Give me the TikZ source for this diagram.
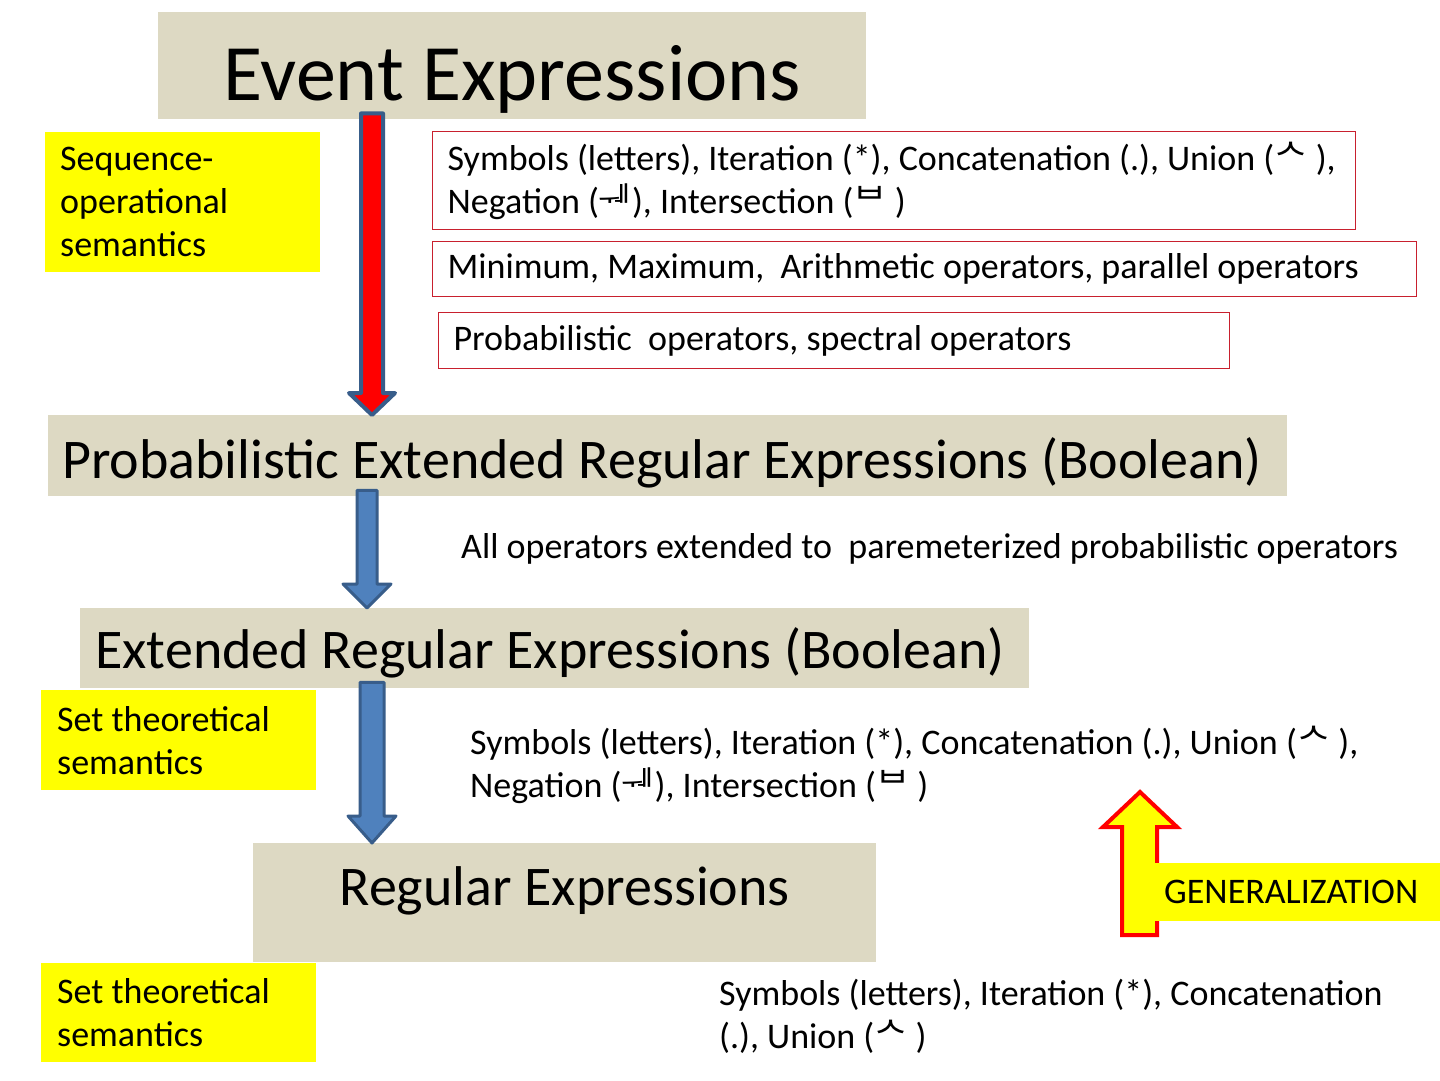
\documentclass[tikz,border=0pt]{standalone}
\usepackage{fontspec}
\setmainfont{Carlito}
\newfontfamily\hangulfont{Noto Sans CJK KR}
\usetikzlibrary{calc}
\definecolor{sand}{HTML}{DDD9C3}
\definecolor{hilite}{HTML}{FFFF00}
\definecolor{boxred}{HTML}{C8202E}
\definecolor{steel}{HTML}{4F81BD}
\definecolor{steeldark}{HTML}{385D8A}

% operator glyphs as printed on the slide
\newcommand{\jamo}[1]{{\hangulfont #1}}
% block arrow from the bottom of one box to the top of the next
% #1 style, #2 x, #3 from, #4 to, #5 half shaft, #6 half head, #7 head length
\newcommand{\blockarrow}[7]{%
  \draw[#1] let \p1=(#3.south), \p2=(#4.north) in
    (#2pt-#5pt,\y1+6pt) -- (#2pt+#5pt,\y1+6pt) -- (#2pt+#5pt,\y2+#7pt)
    -- (#2pt+#6pt,\y2+#7pt) -- (#2pt,\y2) -- (#2pt-#6pt,\y2+#7pt)
    -- (#2pt-#5pt,\y2+#7pt) -- cycle;}

\begin{document}
\begin{tikzpicture}[x=1pt,y=-1pt,every node/.style={inner sep=0pt},
  big/.style={font=\fontsize{56}{67}\selectfont},
  small/.style={font=\fontsize{36}{43}\selectfont},
  titlebox/.style={fill=sand,anchor=north west,big},
  notebox/.style={draw=boxred,line width=1.2pt,anchor=north west,small,
    align=flush left,inner xsep=15pt},
  sembox/.style={fill=hilite,anchor=north west,small,align=flush left,
    inner xsep=15pt},
  plaintext/.style={anchor=west,small,align=left},
  bluearrow/.style={fill=steel,draw=steeldark,line width=3pt,line join=round},
  redarrow/.style={fill=red,draw=steeldark,line width=4pt,line join=round},
  genarrow/.style={fill=hilite,draw=red,line width=4pt}]
  \path[use as bounding box,fill=white] (0,0) rectangle (1440,1080);

  % the four levels
  \node[titlebox,font=\fontsize{80}{96}\selectfont,minimum width=708pt,
        minimum height=107pt,text height=79pt,text depth=10pt]
    (event) at (158,12) {Event Expressions};
  \node[titlebox,align=flush left,text width=1211pt,inner xsep=14pt,
        minimum height=81pt,text height=50pt,text depth=5pt]
    (perb) at (48,415) {Probabilistic Extended Regular Expressions (Boolean)};
  \node[titlebox,align=flush left,text width=919pt,inner xsep=15pt,
        minimum height=80pt,text height=45pt,text depth=5pt]
    (erb) at (80,608) {Extended Regular Expressions (Boolean)};
  \node[titlebox,minimum width=623pt,minimum height=119pt,
        text height=40pt,text depth=35pt]
    (re) at (253,843) {Regular Expressions};

  % semantics labels
  \node[sembox,text width=245pt,minimum height=140pt]
    (seqsem) at (45,132) {Sequence-\\operational\\semantics};
  \node[sembox,text width=243pt,inner xsep=16pt,minimum height=100pt]
    (setsem) at (41,690) {Set theoretical\\semantics};
  \node[sembox,text width=243pt,inner xsep=16pt,minimum height=99pt]
    (setsemre) at (41,963) {Set theoretical\\semantics};

  % operators
  \node[notebox,text width=893pt,minimum height=98pt] (ops) at (432,131)
    {Symbols (letters), Iteration (*), Concatenation (.), Union (\jamo{ᄉ} ),\\
     Negation (\jamo{ᅰ}), Intersection (\jamo{ᄇ} )};
  \node[notebox,text width=954pt,minimum height=55pt] (minmax) at (432,241)
    {Minimum, Maximum, \ Arithmetic operators, parallel operators};
  \node[notebox,text width=761pt,minimum height=56pt] (probops) at (438,312)
    {Probabilistic \ operators, spectral operators};
  \node[plaintext] (allops) at (461,549)
    {All operators extended to \ paremeterized probabilistic operators};
  \node[plaintext] (erbops) at (470,765)
    {Symbols (letters), Iteration (*), Concatenation (.), Union (\jamo{ᄉ} ),\\
     Negation (\jamo{ᅰ}), Intersection (\jamo{ᄇ} )};
  \node[plaintext] (reops) at (719,1016)
    {Symbols (letters), Iteration (*), Concatenation\\(.), Union (\jamo{ᄉ} )};

  % arrows between levels
  \blockarrow{redarrow}{372}{event}{perb}{11}{23}{22}
  \blockarrow{bluearrow}{367}{perb}{erb}{10}{24}{24}
  \blockarrow{bluearrow}{372}{erb}{re}{12}{24}{27}

  % generalization
  \draw[genarrow] (1122,935) -- (1122,827) -- (1103,827) -- (1140,792)
    -- (1177,827) -- (1157,827) -- (1157,935) -- cycle;
  \node[sembox,text width=267pt,inner xsep=9pt,minimum height=58pt]
    (gen) at (1155,863) {GENERALIZATION};
\end{tikzpicture}
\end{document}
